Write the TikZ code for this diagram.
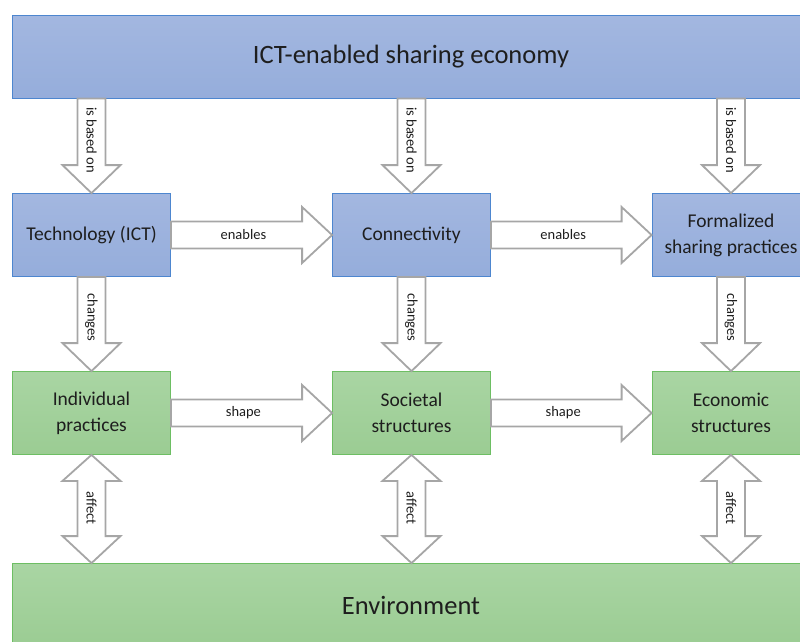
\documentclass[tikz,border=0pt]{standalone}
\usepackage{fontspec}
\setmainfont{Carlito}
\usetikzlibrary{calc}

\definecolor{blueTop}{HTML}{A3B7E0}
\definecolor{blueBot}{HTML}{95ADDB}
\definecolor{blueLine}{HTML}{4D86CF}
\definecolor{greenTop}{HTML}{A9D5A3}
\definecolor{greenBot}{HTML}{9BCC93}
\definecolor{greenLine}{HTML}{6DBE63}
\definecolor{arrowGray}{HTML}{A6A6A6}
\definecolor{textDark}{HTML}{1E1E1E}

\tikzset{
  box/.style={line width=0.8pt, minimum width=158pt, minimum height=83pt,
    inner sep=0pt, align=center, text=textDark,
    font=\fontsize{19.5}{26}\selectfont},
  bluebox/.style={box, draw=blueLine, top color=blueTop, bottom color=blueBot},
  greenbox/.style={box, draw=greenLine, top color=greenTop, bottom color=greenBot},
  widebox/.style={minimum width=798pt, font=\fontsize{26.5}{30}\selectfont},
  blockarrow/.style={draw=arrowGray, line width=1.8pt, fill=white, line join=miter},
  downarrow/.style={blockarrow, to path={let \p1=(\tikztostart), \p2=(\tikztotarget) in
    (\x1-14pt,\y1) -- (\x1-14pt,\y2+28pt) -- (\x1-29pt,\y2+28pt) -- (\x1,\y2)
    -- (\x1+29pt,\y2+28pt) -- (\x1+14pt,\y2+28pt) -- (\x1+14pt,\y1) -- cycle}},
  rightarrow/.style={blockarrow, to path={let \p1=(\tikztostart), \p2=(\tikztotarget) in
    (\x1,\y1+13.5pt) -- (\x2-30pt,\y1+13.5pt) -- (\x2-30pt,\y1+28pt) -- (\x2,\y1)
    -- (\x2-30pt,\y1-28pt) -- (\x2-30pt,\y1-13.5pt) -- (\x1,\y1-13.5pt) -- cycle}},
  botharrow/.style={blockarrow, to path={let \p1=(\tikztostart), \p2=(\tikztotarget) in
    (\x1,\y1) -- (\x1+29pt,\y1-26pt) -- (\x1+14pt,\y1-26pt) -- (\x1+14pt,\y2+27pt)
    -- (\x1+29pt,\y2+27pt) -- (\x1,\y2) -- (\x1-29pt,\y2+27pt) -- (\x1-14pt,\y2+27pt)
    -- (\x1-14pt,\y1-26pt) -- (\x1-29pt,\y1-26pt) -- cycle}},
  arrowlabel/.style={font=\fontsize{14.5}{16}\selectfont, text=textDark, inner sep=0pt},
  vlabel/.style={arrowlabel, rotate=-90},
}

\begin{document}
\begin{tikzpicture}[x=1pt, y=-1pt]
\useasboundingbox (0,0) rectangle (800,641);

% boxes
\node[bluebox, widebox] (ict) at (411,56.5) {ICT-enabled sharing economy};
\node[bluebox] (tech) at (91.5,235) {Technology (ICT)};
\node[bluebox] (conn) at (411.5,235) {Connectivity};
\node[bluebox] (formal) at (731,235) {Formalized\\sharing practices};
\node[greenbox] (indiv) at (91.5,413) {Individual\\practices};
\node[greenbox] (soc) at (411.5,413) {Societal\\structures};
\node[greenbox] (econ) at (731,413) {Economic\\structures};
\node[greenbox, widebox] (env) at (411,605) {Environment};

% vertical arrows per column
\foreach \up/\low in {tech/indiv, conn/soc, formal/econ} {
  \draw[downarrow] (ict.south -| \up.north) to (\up.north);
  \node[vlabel] at ($(ict.south -| \up.north)!0.44!(\up.north)$) {is based on};
  \draw[downarrow] (\up.south) to (\low.north);
  \node[vlabel] at ($(\up.south)!0.43!(\low.north)$) {changes};
  \draw[botharrow] (\low.south) to (env.north -| \low.south);
  \node[vlabel] at ($(\low.south)!0.49!(env.north -| \low.south)$) {affect};
}

% horizontal arrows
\draw[rightarrow] (tech.east) to (conn.west);
\node[arrowlabel] at ($(tech.east)!0.45!(conn.west)$) {enables};
\draw[rightarrow] (conn.east) to (formal.west);
\node[arrowlabel] at ($(conn.east)!0.45!(formal.west)$) {enables};
\draw[rightarrow] (indiv.east) to (soc.west);
\node[arrowlabel] at ($(indiv.east)!0.45!(soc.west)$) {shape};
\draw[rightarrow] (soc.east) to (econ.west);
\node[arrowlabel] at ($(soc.east)!0.45!(econ.west)$) {shape};
\end{tikzpicture}
\end{document}
